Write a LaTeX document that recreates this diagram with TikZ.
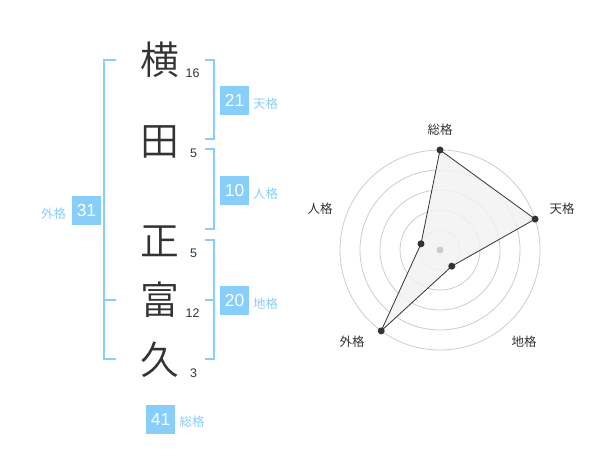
\documentclass[tikz,border=0pt]{standalone}
\usepackage{fontspec}
\setmainfont{Liberation Sans}
\newfontfamily\cjk{Noto Sans CJK JP}
\newfontfamily\cjklight{Noto Sans CJK JP DemiLight}
\definecolor{sky}{HTML}{87CEFA}
\definecolor{ink}{HTML}{333333}
\definecolor{ring}{HTML}{CCCCCC}
\definecolor{area}{HTML}{F2F2F2}
\begin{document}
\begin{tikzpicture}[x=1bp,y=-1bp,
  kanji/.style={inner sep=0pt,text=ink,font=\cjklight\fontsize{39}{39}\selectfont},
  strokes/.style={inner sep=0pt,text=ink,font=\fontsize{12.5}{12.5}\selectfont},
  numbox/.style={fill=sky,text=white,minimum size=29bp,inner sep=0pt,font=\fontsize{17.5}{17.5}\selectfont},
  kaku/.style={inner sep=0pt,text=sky,font=\cjk\fontsize{12.5}{12.5}\selectfont},
  bracket/.style={draw=sky,line width=2bp},
  axislabel/.style={inner sep=0pt,text=ink,font=\cjk\fontsize{12.5}{12.5}\selectfont},
  ringline/.style={draw=ring,line width=0.8bp},
  dot/.style={circle,fill=ink,inner sep=0pt,minimum size=7bp}
]
\useasboundingbox (0,0) rectangle (600,470);
% characters
\node[kanji] (c1) at (160,60) {横};
\node[kanji] (c2) at (160,142) {田};
\node[kanji] (c3) at (160,241) {正};
\node[kanji] (c4) at (160,300) {富};
\node[kanji] (c5) at (160,360) {久};
% stroke counts
\node[strokes] (s1) at (192.5,73) {16};
\node[strokes] (s2) at (193.5,153) {5};
\node[strokes] (s3) at (193.5,253) {5};
\node[strokes] (s4) at (192.5,313) {12};
\node[strokes] (s5) at (193.5,373) {3};
% brackets
\draw[bracket] (205,60) -- (214,60) -- (214,139) -- (205,139);
\draw[bracket] (205,149) -- (214,149) -- (214,229) -- (205,229);
\draw[bracket] (205,240) -- (214,240) -- (214,359) -- (205,359);
\draw[bracket] (205,300) -- (214,300);
\draw[bracket] (116,60) -- (104,60) -- (104,359) -- (116,359);
\draw[bracket] (104,300) -- (116,300);
% boxes and labels
\node[numbox] (b1) at (234.5,100.5) {21};
\node[kaku,anchor=west] (l1) at (253,104) {天格};
\node[numbox] (b2) at (234.5,190.5) {10};
\node[kaku,anchor=west] (l2) at (253,194) {人格};
\node[numbox] (b3) at (234.5,300.5) {20};
\node[kaku,anchor=west] (l3) at (253,304) {地格};
\node[numbox] (b4) at (86.5,210.5) {31};
\node[kaku] (l4) at (53.5,214) {外格};
\node[numbox] (b5) at (160.5,419) {41};
\node[kaku] (l5) at (192,422) {総格};
% radar
\coordinate (o) at (440,250);
\foreach \r in {20,40,60,80,100} \draw[ringline] (o) circle[radius=\r];
\coordinate (p1) at (440,150);
\coordinate (p2) at (535.1,219.1);
\coordinate (p3) at (451.8,266.2);
\coordinate (p4) at (381.2,330.9);
\coordinate (p5) at (421,243.8);
\filldraw[fill=area,fill opacity=0.85,draw=ink,line width=0.8bp] (p1) -- (p2) -- (p3) -- (p4) -- (p5) -- cycle;
\node[circle,fill=ring,inner sep=0pt,minimum size=7bp] (ctr) at (o) {};
\foreach \p in {p1,p2,p3,p4,p5} \node[dot] at (\p) {};
\node[axislabel] (a1) at (440,130) {総格};
\node[axislabel] (a2) at (562,209) {天格};
\node[axislabel] (a3) at (524,342) {地格};
\node[axislabel] (a4) at (352,342) {外格};
\node[axislabel] (a5) at (320,209) {人格};
\end{tikzpicture}
\end{document}
